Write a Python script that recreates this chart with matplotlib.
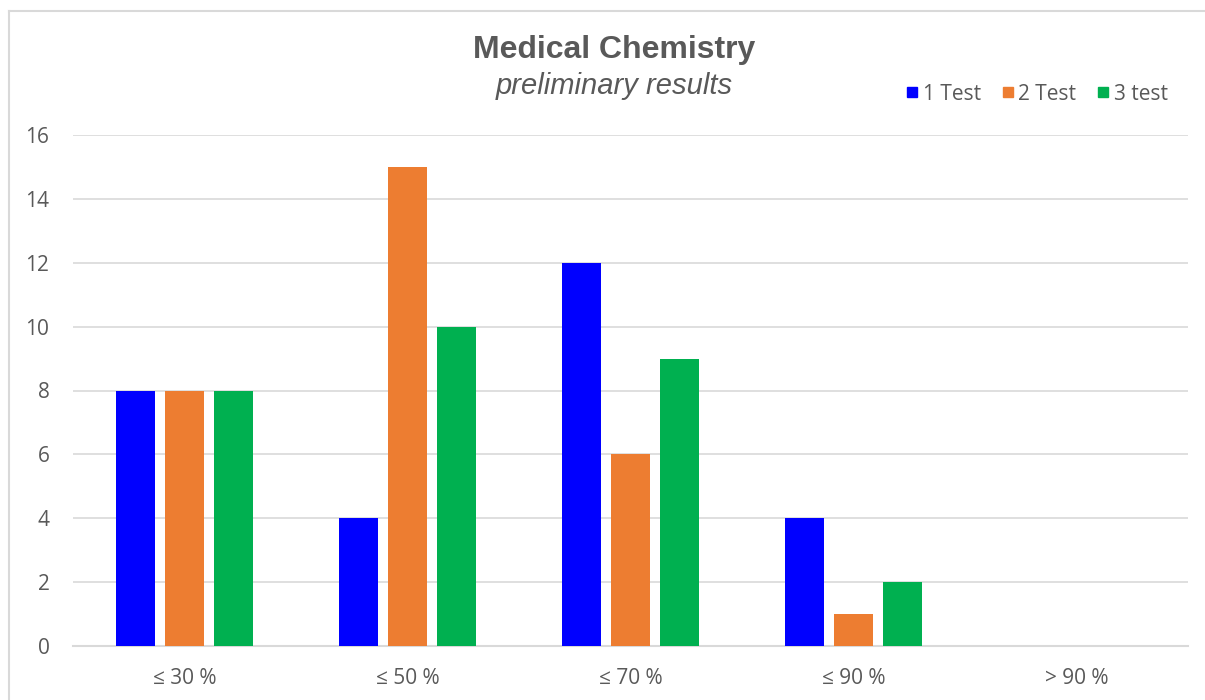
import numpy as np
import matplotlib
matplotlib.use("Agg")
import matplotlib.pyplot as plt
from matplotlib.lines import Line2D

categories = ["≤ 30 %", "≤ 50 %", "≤ 70 %", "≤ 90 %", "> 90 %"]
test1 = [8, 4, 12, 4, 0]
test2 = [8, 15, 6, 1, 0]
test3 = [8, 10, 9, 2, 0]
series_names = ["1 Test", "2 Test", "3 test"]
colors = ["#0000FF", "#ED7D31", "#00B050"]

txt = "#595959"
grid = "#D9D9D9"

fig = plt.figure(figsize=(12.05, 7.0), dpi=100)
ax = fig.add_axes([73 / 1205, 54 / 700, (1188 - 73) / 1205, (646 - 135) / 700])

x = np.arange(len(categories))
width = 0.171
step = 0.22
for i, (vals, c) in enumerate(zip([test1, test2, test3], colors)):
    ax.bar(x + (i - 1) * step, vals, width, color=c, zorder=3)

ax.set_xlim(-0.5, len(categories) - 0.5)
ax.set_ylim(0, 16)
ax.set_yticks(range(0, 17, 2))
ax.set_xticks(x)
ax.set_xticklabels(categories)
ax.yaxis.grid(True, color=grid, linewidth=1.2, zorder=0)
for s in ["top", "right", "left"]:
    ax.spines[s].set_visible(False)
ax.spines["bottom"].set_color(grid)
ax.spines["bottom"].set_linewidth(1.5)
ax.tick_params(axis="both", length=0, labelsize=15, labelcolor=txt)
ax.tick_params(axis="x", pad=16)
ax.tick_params(axis="y", pad=17)
for lab in ax.get_xticklabels() + ax.get_yticklabels():
    lab.set_family(["Open Sans", "DejaVu Sans"])

fig.text(614 / 1205, 1 - 50 / 700, "Medical Chemistry", ha="center", va="center",
         fontsize=23, fontweight="bold", color=txt, family="Liberation Sans")
fig.text(614 / 1205, 1 - 86 / 700, "preliminary results", ha="center", va="center",
         fontsize=21, style="italic", color=txt, family="Liberation Sans")

handles = [Line2D([], [], marker="s", linestyle="None", markersize=6.5, color=c) for c in colors]
leg = fig.legend(handles, series_names, loc="center right", bbox_to_anchor=(1176 / 1205, 1 - 94 / 700),
                 ncol=3, frameon=False, handletextpad=-0.5, columnspacing=0.3,
                 prop={"family": "Open Sans", "size": 15}, borderaxespad=0)
for t in leg.get_texts():
    t.set_color(txt)

# light border along the top and left edges
fig.add_artist(Line2D([9 / 1205, 9 / 1205], [0, 1 - 11 / 700], color=grid, linewidth=1.5, transform=fig.transFigure))
fig.add_artist(Line2D([9 / 1205, 1], [1 - 11 / 700, 1 - 11 / 700], color=grid, linewidth=1.5, transform=fig.transFigure))

fig.savefig("out.png", dpi=100, facecolor="white")
